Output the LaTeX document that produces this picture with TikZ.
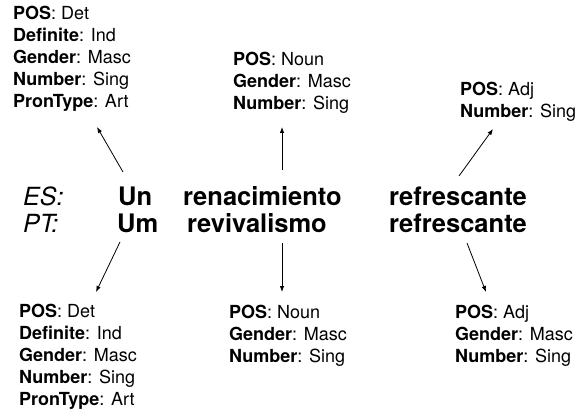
\documentclass[tikz,border=0pt]{standalone}
\usepackage{fontspec}
\setmainfont{TeX Gyre Heros}
\usetikzlibrary{arrows.meta}
\newcommand\fv[2]{\textbf{#1}: #2}
\begin{document}
\begin{tikzpicture}[x=1pt,y=-1pt,
  word/.style={anchor=base west,inner sep=0pt,font=\fontsize{25.5}{30}\selectfont\bfseries},
  lang/.style={anchor=base west,inner sep=0pt,font=\fontsize{25}{30}\selectfont\itshape},
  feat/.style={anchor=north west,inner sep=0pt,align=left,font=\fontsize{18}{22}\selectfont},
  arr/.style={-{Latex[length=6pt,width=4.5pt]},line width=0.8pt}]
\useasboundingbox (0,0) rectangle (582,412);
% words
\node[lang] (es) at (23,205) {ES:};
\node[lang] (pt) at (23,233) {PT:};
\node[word] (un) at (118,205) {Un};
\node[word] (um) at (117,233) {Um};
\node[word] (ren) at (183,205) {renacimiento};
\node[word] (rev) at (187,233) {revivalismo};
\node[word] (ref1) at (389,205) {refrescante};
\node[word] (ref2) at (389,233) {refrescante};
% feature blocks
\node[feat] (tl) at (13,5.7) {\fv{POS}{Det}\\\fv{Definite}{Ind}\\\fv{Gender}{Masc}\\\fv{Number}{Sing}\\\fv{PronType}{Art}};
\node[feat] (tm) at (233,52) {\fv{POS}{Noun}\\\fv{Gender}{Masc}\\\fv{Number}{Sing}};
\node[feat] (tr) at (460,81.7) {\fv{POS}{Adj}\\\fv{Number}{Sing}};
\node[feat] (bl) at (19,303.7) {\fv{POS}{Det}\\\fv{Definite}{Ind}\\\fv{Gender}{Masc}\\\fv{Number}{Sing}\\\fv{PronType}{Art}};
\node[feat] (bm) at (229,304.7) {\fv{POS}{Noun}\\\fv{Gender}{Masc}\\\fv{Number}{Sing}};
\node[feat] (br) at (455,304.7) {\fv{POS}{Adj}\\\fv{Gender}{Masc}\\\fv{Number}{Sing}};
% arrow end points
\coordinate (tls) at (123,172); \coordinate (tle) at (97,127);
\coordinate (tms) at (282,170); \coordinate (tme) at (282,127);
\coordinate (trs) at (459,176); \coordinate (tre) at (493,129);
\coordinate (bls) at (120,242); \coordinate (ble) at (96,292);
\coordinate (bms) at (282,243); \coordinate (bme) at (282,292);
\coordinate (brs) at (467,243); \coordinate (bre) at (486,292);
\draw[arr] (tls) -- (tle);
\draw[arr] (tms) -- (tme);
\draw[arr] (trs) -- (tre);
\draw[arr] (bls) -- (ble);
\draw[arr] (bms) -- (bme);
\draw[arr] (brs) -- (bre);
\end{tikzpicture}
\end{document}
